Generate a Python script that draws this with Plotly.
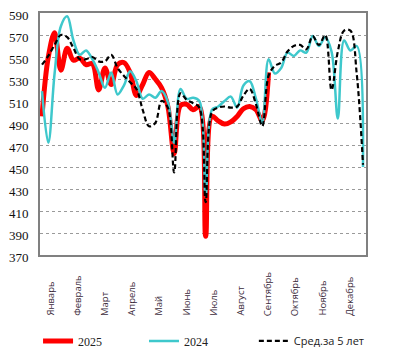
import plotly.graph_objects as go

weeks = list(range(1, 53))

y2025 = [496, 550, 572, 538, 558, 547, 549, 543, 544, 520, 540, 525, 543, 545, 536, 515,
         525, 536, 530, 522, 505, 462, 506, 507, 502, 505, 387, 496, 492, 489, 491, 496,
         503, 505, 502, 492, 536]

y2024 = [519, 472, 535, 578, 587, 565, 552, 556, 548, 536, 522, 536, 516, 524, 537, 528,
         512, 516, 513, 519, 509, 472, 521, 512, 513, 510, 424, 502, 505, 510, 514, 504,
         524, 528, 512, 490, 548, 535, 540, 554, 551, 556, 554, 569, 560, 568, 555, 494,
         565, 556, 560, 450]

yavg = [543, 551, 561, 570, 568, 558, 548, 548, 550, 546, 546, 552, 540, 533, 527, 521,
        502, 487, 490, 510, 504, 445, 517, 511, 508, 504, 418, 500, 504, 505, 504, 505,
        515, 521, 507, 487, 533, 542, 545, 555, 560, 561, 557, 569, 561, 570, 520, 555,
        574, 574, 535, 452]

months = ["Январь", "Февраль", "Март", "Апрель", "Май", "Июнь", "Июль", "Август",
          "Сентябрь", "Октябрь", "Ноябрь", "Декабрь"]

y_ticks = list(range(370, 591, 20))

SERIF = "Liberation Serif, Times New Roman, serif"
SANS = "Open Sans, Noto Sans, sans-serif"

fig = go.Figure()
fig.add_trace(go.Scatter(x=weeks[:len(y2025)], y=y2025, mode="lines", name="2025",
                         legend="legend",
                         line=dict(color="#ff0000", width=5, shape="spline")))
fig.add_trace(go.Scatter(x=weeks, y=y2024, mode="lines", name="2024",
                         legend="legend2",
                         line=dict(color="#3ec8cc", width=2.5, shape="spline")))
fig.add_trace(go.Scatter(x=weeks, y=yavg, mode="lines", name="Сред.за 5 лет",
                         legend="legend3",
                         line=dict(color="#000000", width=2.2, dash="5px,3px", shape="spline")))

month_pos = [2.3 + 4.32 * m for m in range(12)]
for pos, name in zip(month_pos, months):
    fig.add_annotation(x=pos, xref="x", y=-0.26, yref="paper", text=name,
                       textangle=-90, showarrow=False, yanchor="bottom", xanchor="center",
                       font=dict(family=SANS, size=9.5, color="#3a2a3a"))

leg_common = dict(orientation="h", y=-0.355, xanchor="left", yanchor="middle",
                  bgcolor="rgba(0,0,0,0)")

fig.update_layout(
    width=387, height=355,
    margin=dict(l=32, r=29, t=5, b=108, autoexpand=False),
    paper_bgcolor="white", plot_bgcolor="white",
    showlegend=True,
    legend=dict(x=-0.006, font=dict(family=SERIF, size=12, color="#222"), **leg_common),
    legend2=dict(x=0.319, font=dict(family=SERIF, size=12, color="#222"), **leg_common),
    legend3=dict(x=0.656, font=dict(family=SANS, size=11, color="#222"), **leg_common),
    xaxis=dict(range=[0.682, 52.477], showticklabels=False, showgrid=False,
               zeroline=False, showline=True, mirror=True, linecolor="#808080", linewidth=2),
    yaxis=dict(range=[370, 590], tickvals=y_ticks, showgrid=True, gridcolor="#9a9a9a",
               griddash="dot", gridwidth=1, zeroline=False, showline=True, mirror=True,
               linecolor="#808080", linewidth=2, ticks="outside", ticklen=7,
               tickcolor="rgba(0,0,0,0)", ticklabeloverflow="allow", ticklabelshift=2,
               tickfont=dict(family=SERIF, size=13, color="#111")),
)

fig.write_html("out.html")
